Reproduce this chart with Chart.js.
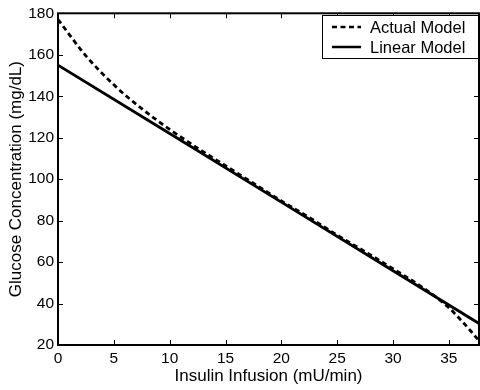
<!DOCTYPE html>
<html>
<head>
<meta charset="utf-8">
<script src="https://cdn.jsdelivr.net/npm/chart.js@4/dist/chart.umd.min.js"></script>
<style>
  html, body { margin: 0; padding: 0; background: #fff; }
  #wrap { width: 480px; height: 390px; }
</style>
</head>
<body>
<div id="wrap"><canvas id="chart" width="480" height="390"></canvas></div>
<script>
// values
const actualX = [0, 2.5, 5, 7.5, 10, 12.5, 15, 17.5, 20, 22.5, 25, 27.5, 30, 32.5, 34, 35, 36, 37, 37.7];
const actualY = [177, 159.5, 145.5, 134, 124, 115, 106.5, 98, 89.5, 81.5, 73, 65, 56.8, 48.3, 42.5, 38, 32.5, 26.5, 22];
const linearX = [0, 10, 20, 30, 37.7];
const linearY = [155, 122, 88.9, 55.8, 30.4];
const xTicks = [0, 5, 10, 15, 20, 25, 30, 35];
const yTicks = [20, 40, 60, 80, 100, 120, 140, 160, 180];
const seriesNames = ['Actual Model', 'Linear Model'];

const FONT = '"Liberation Sans", Arial, Helvetica, sans-serif';

function toPoints(xs, ys) {
    return xs.map(function(x, i) { return { x: x, y: ys[i] }; });
}

// matlab style box with inward ticks plus the legend
const framePlugin = {
    id: 'frame',
    afterDraw: function(chart) {
        const ctx = chart.ctx;
        const a = chart.chartArea;
        const xs = chart.scales.x;
        const ys = chart.scales.y;
        ctx.save();
        ctx.strokeStyle = '#000';
        ctx.lineWidth = 2;
        ctx.strokeRect(a.left, a.top, a.right - a.left, a.bottom - a.top);

        ctx.lineWidth = 1;
        ctx.beginPath();
        xTicks.forEach(function(v) {
            const px = Math.round(xs.getPixelForValue(v)) + 0.5;
            ctx.moveTo(px, a.bottom); ctx.lineTo(px, a.bottom - 5);
            ctx.moveTo(px, a.top); ctx.lineTo(px, a.top + 5);
        });
        yTicks.forEach(function(v) {
            const py = Math.round(ys.getPixelForValue(v)) + 0.5;
            ctx.moveTo(a.left, py); ctx.lineTo(a.left + 5, py);
            ctx.moveTo(a.right, py); ctx.lineTo(a.right - 5, py);
        });
        ctx.stroke();

        // legend
        const bx = 322, by = 15, bw = 156, bh = 43;
        ctx.fillStyle = '#fff';
        ctx.fillRect(bx, by, bw, bh);
        ctx.lineWidth = 1;
        ctx.strokeRect(bx + 0.5, by + 0.5, bw, bh);
        ctx.font = '16.5px ' + FONT;
        ctx.textBaseline = 'middle';
        ctx.fillStyle = '#000';
        chart.data.datasets.forEach(function(ds, i) {
            const cy = by + 12 + i * 20;
            ctx.beginPath();
            ctx.lineWidth = 2.5;
            ctx.setLineDash(ds.borderDash || []);
            ctx.moveTo(bx + 10, cy);
            ctx.lineTo(bx + 39, cy);
            ctx.stroke();
            ctx.setLineDash([]);
            ctx.fillText(ds.label, bx + 48, cy + 1);
        });
        ctx.restore();
    }
};

const ctx = document.getElementById('chart').getContext('2d');
const chart = new Chart(ctx, {
    type: 'line',
    data: {
        datasets: [{
            label: seriesNames[0],
            data: toPoints(actualX, actualY),
            borderColor: '#000',
            borderWidth: 2.8,
            borderDash: [5, 3.5],
            pointRadius: 0,
            cubicInterpolationMode: 'monotone',
            fill: false
        }, {
            label: seriesNames[1],
            data: toPoints(linearX, linearY),
            borderColor: '#000',
            borderWidth: 2.8,
            pointRadius: 0,
            tension: 0,
            fill: false
        }]
    },
    plugins: [framePlugin],
    options: {
        responsive: false,
        animation: false,
        layout: { padding: { top: 11, right: 1, left: 0, bottom: 0 } },
        plugins: {
            legend: { display: false },
            tooltip: { enabled: false }
        },
        scales: {
            x: {
                type: 'linear',
                min: 0,
                max: 37.7,
                afterFit: function(s) { s.height = 45; },
                afterBuildTicks: function(s) { s.ticks = xTicks.map(function(v) { return { value: v }; }); },
                grid: { display: false, drawTicks: false },
                border: { display: false },
                ticks: { color: '#000', font: { family: FONT, size: 15.5 }, padding: 4, maxRotation: 0 },
                title: { display: true, text: 'Insulin Infusion (mU/min)', color: '#000', font: { family: FONT, size: 17 }, padding: { top: 0, bottom: 3 } }
            },
            y: {
                type: 'linear',
                min: 20,
                max: 180,
                afterFit: function(s) { s.width = 58; },
                afterBuildTicks: function(s) { s.ticks = yTicks.map(function(v) { return { value: v }; }); },
                grid: { display: false, drawTicks: false },
                border: { display: false },
                ticks: { color: '#000', font: { family: FONT, size: 15.5 }, padding: 4 },
                title: { display: true, text: 'Glucose Concentration (mg/dL)', color: '#000', font: { family: FONT, size: 17 }, padding: { top: 6, bottom: 0 } }
            }
        }
    }
});
</script>
</body>
</html>
